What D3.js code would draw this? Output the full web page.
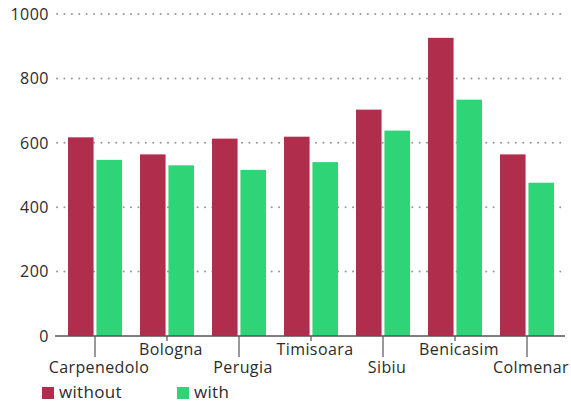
<!DOCTYPE html>
<html>
<head>
<meta charset="utf-8">
<script src="https://cdn.jsdelivr.net/npm/d3@7"></script>
<style>
  body { margin: 0; background: #fff; }
  text { font-family: "Open Sans", "Noto Sans", sans-serif; fill: #2b2b2b; }
</style>
</head>
<body>
<svg class="bars_svg" width="571" height="403"></svg>
<script>
var cities = ["Carpenedolo", "Bologna", "Perugia", "Timisoara", "Sibiu", "Benicasim", "Colmenar"];
var series = ["without", "with"];
var without_vals = [617, 564, 613, 619, 703, 926, 564];
var with_vals = [547, 530, 516, 540, 638, 734, 476];
var y_ticks = [0, 200, 400, 600, 800, 1000];

var colors = { "without": "#b02d4b", "with": "#2fd477" };

var svg = d3.select(".bars_svg");

var x0 = d3.scaleBand()
    .domain(cities)
    .range([59, 563])
    .paddingInner(0.25)
    .paddingOuter(0.125);

var x1 = d3.scaleBand()
    .domain(series)
    .range([0, x0.bandwidth()])
    .paddingInner(0.1);

var y = d3.scaleLinear()
    .domain([0, 1000])
    .range([336, 14]);

// dotted grid lines
svg.append("g")
    .selectAll("line")
    .data(y_ticks.filter(function (d) { return d > 0; }))
    .join("line")
    .attr("x1", 57)
    .attr("x2", 565)
    .attr("y1", function (d) { return y(d); })
    .attr("y2", function (d) { return y(d); })
    .attr("stroke", "#9a9a9a")
    .attr("stroke-width", 2)
    .attr("stroke-linecap", "round")
    .attr("stroke-dasharray", "0.1,7.3");

// y labels
svg.append("g")
    .selectAll("text")
    .data(y_ticks)
    .join("text")
    .attr("x", 49)
    .attr("y", function (d) { return y(d); })
    .attr("dy", ".36em")
    .attr("text-anchor", "end")
    .style("font-size", "16px")
    .style("letter-spacing", "0.5px")
    .text(function (d) { return d; });

// bars
var rows = cities.map(function (c, i) {
    return { city: c, values: [{ key: "without", v: without_vals[i] }, { key: "with", v: with_vals[i] }] };
});

var grp = svg.append("g")
    .selectAll("g")
    .data(rows)
    .join("g")
    .attr("transform", function (d) { return "translate(" + x0(d.city) + ",0)"; });

grp.selectAll("rect")
    .data(function (d) { return d.values; })
    .join("rect")
    .attr("x", function (d) { return x1(d.key); })
    .attr("width", x1.bandwidth())
    .attr("y", function (d) { return y(d.v); })
    .attr("height", function (d) { return y(0) - y(d.v); })
    .attr("fill", function (d) { return colors[d.key]; });

// x axis line
svg.append("line")
    .attr("x1", 55)
    .attr("x2", 565)
    .attr("y1", y(0))
    .attr("y2", y(0))
    .attr("stroke", "#555")
    .attr("stroke-width", 1.5);

// ticks and staggered labels
var xt = svg.append("g")
    .selectAll("g")
    .data(cities)
    .join("g")
    .attr("transform", function (d) { return "translate(" + (x0(d) + x0.bandwidth() / 2) + "," + y(0) + ")"; });

xt.append("line")
    .attr("y1", 0)
    .attr("y2", function (d, i) { return i % 2 == 0 ? 21 : 5; })
    .attr("stroke", "#555")
    .attr("stroke-width", 1.2);

xt.append("text")
    .attr("x", 4)
    .attr("y", function (d, i) { return i % 2 == 0 ? 37 : 19; })
    .attr("text-anchor", "middle")
    .style("font-size", "16px")
    .style("letter-spacing", "0.4px")
    .text(function (d) { return d; });

// legend
var leg = svg.append("g")
    .selectAll("g")
    .data(series)
    .join("g")
    .attr("transform", function (d, i) { return "translate(" + (42 + i * 135) + ",387)"; });

leg.append("rect")
    .attr("width", 12)
    .attr("height", 12)
    .attr("fill", function (d) { return colors[d]; });

leg.append("text")
    .attr("x", 17)
    .attr("y", 11)
    .style("font-size", "17px")
    .style("letter-spacing", "0.3px")
    .text(function (d) { return d; });
</script>
</body>
</html>
